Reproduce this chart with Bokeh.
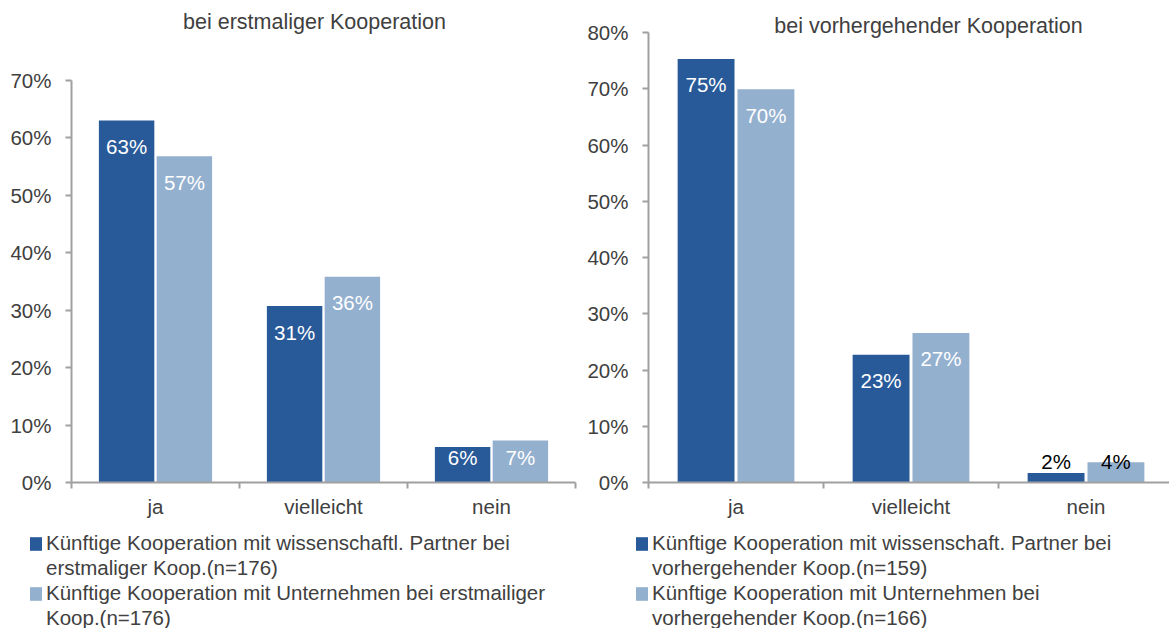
from bokeh.plotting import figure
from bokeh.layouts import row, column
from bokeh.models import (ColumnDataSource, Range1d, FixedTicker, NumeralTickFormatter,
                          Legend, LegendItem, LabelSet, Label)
from bokeh.transform import dodge
from bokeh.core.properties import value
from bokeh.embed import file_html
from bokeh.resources import INLINE

# ---------------- data ----------------
categories = ["ja", "vielleicht", "nein"]
y_ticks_left = [0.0, 0.1, 0.2, 0.3, 0.4, 0.5, 0.6, 0.7]
y_ticks_right = [0.0, 0.1, 0.2, 0.3, 0.4, 0.5, 0.6, 0.7, 0.8]

left_title = "bei erstmaliger Kooperation"
left_wiss = [0.630, 0.307, 0.062]
left_unt = [0.568, 0.358, 0.073]
left_legend_wiss = ["Künftige Kooperation mit wissenschaftl. Partner bei", "erstmaliger Koop.(n=176)"]
left_legend_unt = ["Künftige Kooperation mit Unternehmen bei erstmailiger", "Koop.(n=176)"]

right_title = "bei vorhergehender Kooperation"
right_wiss = [0.753, 0.227, 0.017]
right_unt = [0.699, 0.266, 0.036]
right_legend_wiss = ["Künftige Kooperation mit wissenschaft. Partner bei", "vorhergehender Koop.(n=159)"]
right_legend_unt = ["Künftige Kooperation mit Unternehmen bei", "vorhergehender Koop.(n=166)"]

# ---------------- style ----------------
DARK = "#285a99"
LIGHT = "#94b0cf"
AXIS = "#a0a0a0"
TXT = "#404040"
FONT = "Liberation Sans"
FS = "20.5px"
CHART_H = 528
LEGEND_H = 100


def make_chart(vals_a, vals_b, yticks, title, *, width, b_left, b_bottom,
               top_gap, x_end, bar_w, off, small_offset, title_x, title_y):
    xs = [i + 0.5 for i in range(len(categories))]
    ymax = yticks[-1]
    frame_h = CHART_H - b_bottom
    y_end = ymax * frame_h / (frame_h - top_gap)   # room above the axis for the title
    p = figure(width=width, height=CHART_H, x_range=Range1d(0, x_end),
               y_range=Range1d(0, y_end), output_backend="svg",
               toolbar_location=None, min_border_left=b_left, min_border_right=0,
               min_border_top=0, min_border_bottom=b_bottom)
    p.outline_line_color = None
    p.xgrid.grid_line_color = None
    p.ygrid.grid_line_color = None

    for vals, color, o in ((vals_a, DARK, -off), (vals_b, LIGHT, off)):
        inside = [v >= 0.1 for v in vals]
        src = ColumnDataSource(dict(
            x=xs, top=vals,
            ly=[v if ins else 0 for v, ins in zip(vals, inside)],
            yo=[-26 if ins else small_offset for ins in inside],
            txt=["%d%%" % round(v * 100) for v in vals],
            tc=["white" if v > 0.05 else "black" for v in vals],
        ))
        p.vbar(x=dodge("x", o), top="top", width=bar_w, source=src,
               fill_color=color, line_color=None)
        p.add_layout(LabelSet(x=dodge("x", o), y="ly", text="txt", source=src,
                              y_offset="yo", text_color="tc", text_align="center",
                              text_baseline="middle", text_font=value(FONT),
                              text_font_size=value(FS)))

    xa = p.xaxis[0]
    xa.ticker = FixedTicker(ticks=xs, minor_ticks=[float(i) for i in range(len(categories) + 1)])
    xa.major_label_overrides = {x: c for x, c in zip(xs, categories)}
    xa.bounds = (0, len(categories))
    xa.axis_line_color = AXIS
    xa.axis_line_width = 2
    xa.major_tick_line_color = None
    xa.major_tick_out = 0
    xa.major_tick_in = 0
    xa.minor_tick_line_color = AXIS
    xa.minor_tick_line_width = 2
    xa.minor_tick_out = 6
    xa.minor_tick_in = 0
    xa.major_label_standoff = 6
    xa.major_label_text_font = FONT
    xa.major_label_text_font_size = FS
    xa.major_label_text_color = TXT

    ya = p.yaxis[0]
    ya.ticker = FixedTicker(ticks=yticks)
    ya.formatter = NumeralTickFormatter(format="0%")
    ya.bounds = (0, ymax)
    ya.axis_line_color = AXIS
    ya.axis_line_width = 2
    ya.major_tick_line_color = AXIS
    ya.major_tick_line_width = 2
    ya.major_tick_out = 6
    ya.major_tick_in = 0
    ya.minor_tick_line_color = None
    ya.major_label_standoff = 14
    ya.major_label_text_font = FONT
    ya.major_label_text_font_size = FS
    ya.major_label_text_color = TXT

    p.add_layout(Label(x=title_x, y=title_y, x_units="screen", y_units="screen",
                       text=title, text_align="center", text_baseline="middle",
                       text_font=FONT, text_font_size="21.5px", text_color=TXT))
    return p


def make_legend(vals_a, vals_b, leg_a, leg_b, *, width, b_left):
    xs = [i + 0.5 for i in range(len(categories))]
    lf = figure(width=width, height=LEGEND_H, x_range=Range1d(0, 1), y_range=Range1d(0, 1),
                output_backend="svg", toolbar_location=None, min_border_left=b_left,
                min_border_right=0, min_border_top=3, min_border_bottom=0)
    lf.axis.visible = False
    lf.grid.visible = False
    lf.outline_line_color = None
    # legend proxies (hidden renderers carrying the series' fill colours)
    ra = lf.vbar(x=xs, top=vals_a, width=0.1, fill_color=DARK, line_color=None, visible=False)
    rb = lf.vbar(x=xs, top=vals_b, width=0.1, fill_color=LIGHT, line_color=None, visible=False)
    blank = lf.vbar(x=xs, top=vals_a, width=0.1, fill_alpha=0, line_alpha=0, visible=False)
    items = [
        LegendItem(label=leg_a[0], renderers=[ra]),
        LegendItem(label=leg_a[1], renderers=[blank]),
        LegendItem(label=leg_b[0], renderers=[rb]),
        LegendItem(label=leg_b[1], renderers=[blank]),
    ]
    legend = Legend(items=items, location="top_left", orientation="vertical",
                    label_text_font=FONT, label_text_font_size=FS, label_text_color=TXT,
                    glyph_width=15, glyph_height=17, label_standoff=3, spacing=1,
                    label_height=24, padding=0, margin=0, border_line_color=None,
                    background_fill_alpha=0, inactive_fill_alpha=0)
    lf.add_layout(legend)
    return lf


left = make_chart(left_wiss, left_unt, y_ticks_left, left_title,
                  width=580, b_left=71, b_bottom=45, top_gap=80,
                  x_end=3.0 * 509 / 504, bar_w=0.33, off=0.172, small_offset=25,
                  title_x=243, title_y=461)

right = make_chart(right_wiss, right_unt, y_ticks_right, right_title,
                   width=589, b_left=68, b_bottom=46, top_gap=32,
                   x_end=3.0 * 521 / 525, bar_w=0.325, off=0.171, small_offset=21,
                   title_x=280, title_y=457)

left_leg = make_legend(left_wiss, left_unt, left_legend_wiss, left_legend_unt,
                       width=580, b_left=28)
right_leg = make_legend(right_wiss, right_unt, right_legend_wiss, right_legend_unt,
                        width=589, b_left=54)

layout = column(row(left, right), row(left_leg, right_leg))
open("out.html", "w").write(file_html(layout, INLINE))
